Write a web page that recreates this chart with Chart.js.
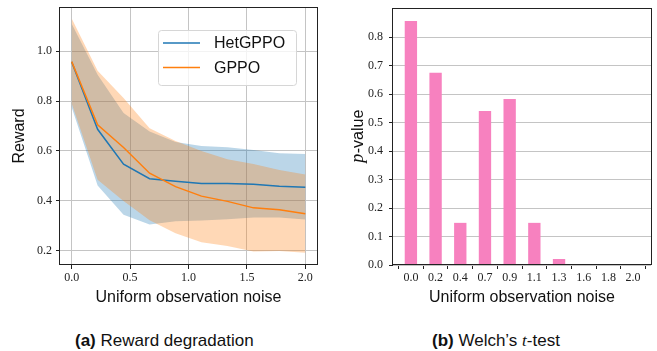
<!DOCTYPE html>
<html>
<head>
<meta charset="utf-8">
<script src="https://cdn.jsdelivr.net/npm/chart.js@4.4.0/dist/chart.umd.min.js"></script>
<style>
  body { margin: 0; background: #fff; width: 657px; height: 351px; position: relative; overflow: hidden;
         font-family: "Liberation Sans", Arial, sans-serif; }
  #left { position: absolute; left: 0; top: 0; width: 330px; height: 310px; }
  #right { position: absolute; left: 330px; top: 0; width: 327px; height: 310px; }
  .cap { position: absolute; top: 331px; font-size: 17px; color: #111; white-space: nowrap; }
</style>
</head>
<body>
<div id="left"><canvas id="rewardChart"></canvas></div>
<div id="right"><canvas id="pvalChart"></canvas></div>
<div class="cap" style="left:75px"><b>(a)</b> Reward degradation</div>
<div class="cap" style="left:432px"><b>(b)</b> Welch’s <i style="font-family:'Liberation Serif',serif">t</i>-test</div>

<script>
// noise levels (x values) and their rounded labels
const noise = [0, 0.222, 0.444, 0.667, 0.889, 1.111, 1.333, 1.556, 1.778, 2.0];
const noiseLabels = ['0.0', '0.2', '0.4', '0.7', '0.9', '1.1', '1.3', '1.6', '1.8', '2.0'];

// reward means and bands
const hetMean  = [0.957, 0.687, 0.547, 0.489, 0.479, 0.470, 0.470, 0.467, 0.459, 0.455];
const hetUpper = [1.110, 0.905, 0.752, 0.678, 0.636, 0.620, 0.615, 0.604, 0.591, 0.588];
const hetLower = [0.775, 0.462, 0.344, 0.305, 0.318, 0.321, 0.326, 0.333, 0.333, 0.325];
const gppoMean  = [0.958, 0.705, 0.614, 0.511, 0.457, 0.419, 0.398, 0.372, 0.364, 0.348];
const gppoUpper = [1.131, 0.922, 0.812, 0.691, 0.640, 0.600, 0.567, 0.548, 0.524, 0.506];
const gppoLower = [0.790, 0.485, 0.399, 0.322, 0.270, 0.234, 0.219, 0.197, 0.199, 0.192];

// Welch's t-test p-values
const pValues = [0.857, 0.675, 0.148, 0.541, 0.583, 0.148, 0.021, 0.0, 0.0, 0.0];

const rewardTicks = [0.2, 0.4, 0.6, 0.8, 1.0];
const noiseTicks = [0.0, 0.5, 1.0, 1.5, 2.0];
const pTicks = [0.0, 0.1, 0.2, 0.3, 0.4, 0.5, 0.6, 0.7, 0.8];

const BLUE = '#1f77b4', ORANGE = '#ff7f0e', PINK = '#f781bf';
const tickFont = { family: "'Liberation Serif', 'Times New Roman', serif", size: 12 };
const titleFont = { family: "'Liberation Sans', Arial, sans-serif", size: 16 };
const gridCol = '#c4c4c4';

Chart.defaults.animation = false;
Chart.defaults.color = '#222';

const pts = (xs, ys) => xs.map((x, i) => ({ x: x, y: ys[i] }));

// frame around the plotting area
const boxPlugin = {
    id: 'box',
    afterDraw(chart) {
        const { ctx, chartArea: a } = chart;
        ctx.save();
        ctx.strokeStyle = '#222';
        ctx.lineWidth = 1;
        ctx.strokeRect(Math.round(a.left) - 0.5, Math.round(a.top) + 0.5,
                       Math.round(a.right - a.left) + 1, Math.round(a.bottom - a.top) - 1);
        ctx.restore();
    }
};

// legend in the upper right of the plot, like matplotlib's
const legendBox = {
    id: 'legendBox',
    afterDraw(chart) {
        const { ctx, chartArea: a } = chart;
        const items = chart.data.datasets.filter(d => d.label);
        const w = 138, h = 55;
        const x = a.right - 21 - w, y = a.top + 23;
        ctx.save();
        ctx.beginPath();
        ctx.roundRect(x + 0.5, y + 0.5, w, h, 3);
        ctx.fillStyle = 'rgba(255,255,255,0.8)';
        ctx.fill();
        ctx.strokeStyle = '#d6d6d6';
        ctx.lineWidth = 1;
        ctx.stroke();
        ctx.font = "16px 'Liberation Sans', Arial, sans-serif";
        ctx.textBaseline = 'middle';
        items.forEach((d, i) => {
            const cy = y + 13 + i * 24.5;
            ctx.strokeStyle = d.borderColor;
            ctx.lineWidth = 1.5;
            ctx.beginPath();
            ctx.moveTo(x + 5, cy);
            ctx.lineTo(x + 42, cy);
            ctx.stroke();
            ctx.fillStyle = '#111';
            ctx.fillText(d.label, x + 56, cy + 1);
        });
        ctx.restore();
    }
};

new Chart(document.getElementById('rewardChart'), {
    type: 'line',
    data: {
        datasets: [
            { label: 'HetGPPO', data: pts(noise, hetMean), borderColor: BLUE, borderWidth: 1.5,
              pointRadius: 0, fill: false, tension: 0, order: 1 },
            { label: 'GPPO', data: pts(noise, gppoMean), borderColor: ORANGE, borderWidth: 1.5,
              pointRadius: 0, fill: false, tension: 0, order: 0 },
            { data: pts(noise, hetUpper), borderWidth: 0, borderColor: 'rgba(0,0,0,0)', pointRadius: 0,
              fill: '+1', backgroundColor: 'rgba(31,119,180,0.3)', order: 3 },
            { data: pts(noise, hetLower), borderWidth: 0, borderColor: 'rgba(0,0,0,0)', pointRadius: 0,
              fill: false, order: 3 },
            { data: pts(noise, gppoUpper), borderWidth: 0, borderColor: 'rgba(0,0,0,0)', pointRadius: 0,
              fill: '+1', backgroundColor: 'rgba(255,127,14,0.3)', order: 2 },
            { data: pts(noise, gppoLower), borderWidth: 0, borderColor: 'rgba(0,0,0,0)', pointRadius: 0,
              fill: false, order: 2 }
        ]
    },
    options: {
        responsive: true,
        maintainAspectRatio: false,
        layout: { padding: { top: 7, right: 13, left: 0, bottom: 0 } },
        plugins: { legend: { display: false }, tooltip: { enabled: false } },
        scales: {
            x: {
                type: 'linear', min: -0.1, max: 2.1,
                afterBuildTicks: s => { s.ticks = noiseTicks.map(v => ({ value: v })); },
                afterFit: s => { s.height = 45; },
                ticks: { font: tickFont, padding: 2, maxRotation: 0, callback: v => v.toFixed(1) },
                grid: { color: gridCol, tickColor: '#222', tickLength: 4 },
                border: { display: false },
                title: { display: true, text: 'Uniform observation noise', font: titleFont, color: '#111',
                         padding: { top: 0, bottom: 3 } }
            },
            y: {
                min: 0.143, max: 1.177,
                afterBuildTicks: s => { s.ticks = rewardTicks.map(v => ({ value: v })); },
                afterFit: s => { s.width = 60; s.paddingTop = 0; s.paddingBottom = 0; },
                ticks: { font: tickFont, padding: 4, callback: v => v.toFixed(1) },
                grid: { color: gridCol, tickColor: '#222', tickLength: 4 },
                border: { display: false },
                title: { display: true, text: 'Reward', font: titleFont, color: '#111',
                         padding: { top: 10, bottom: 0 } }
            }
        }
    },
    plugins: [boxPlugin, legendBox]
});

// y-axis label with an italic serif "p"
const pLabel = {
    id: 'pLabel',
    afterDraw(chart) {
        const { ctx, chartArea: a } = chart;
        ctx.save();
        ctx.translate(32.5, (a.top + a.bottom) / 2);
        ctx.rotate(-Math.PI / 2);
        ctx.textBaseline = 'alphabetic';
        const f1 = "italic 18px 'Liberation Serif', serif";
        const f2 = "16px 'Liberation Sans', Arial, sans-serif";
        ctx.font = f1; const w1 = ctx.measureText('p').width;
        ctx.font = f2; const w2 = ctx.measureText('-value').width;
        let x0 = -(w1 + w2) / 2;
        ctx.fillStyle = '#111';
        ctx.font = f1; ctx.fillText('p', x0, 0);
        ctx.font = f2; ctx.fillText('-value', x0 + w1 + 0.5, 0);
        ctx.restore();
    }
};

new Chart(document.getElementById('pvalChart'), {
    type: 'bar',
    data: {
        datasets: [{
            data: pts(noiseLabels.map((_, i) => i), pValues),
            backgroundColor: PINK,
            categoryPercentage: 1.0,
            barPercentage: 0.5
        }]
    },
    options: {
        responsive: true,
        maintainAspectRatio: false,
        layout: { padding: { top: 8, right: 6, left: 0, bottom: 0 } },
        plugins: { legend: { display: false }, tooltip: { enabled: false } },
        scales: {
            x: {
                type: 'linear', min: -0.725, max: 9.725, offset: false,
                afterBuildTicks: s => { s.ticks = noiseLabels.map((_, i) => ({ value: i })); },
                afterFit: s => { s.height = 45; },
                ticks: { font: tickFont, padding: 2, maxRotation: 0, autoSkip: false,
                         callback: v => noiseLabels[v] },
                grid: { drawOnChartArea: false, tickColor: '#222', tickLength: 4 },
                border: { display: false },
                title: { display: true, text: 'Uniform observation noise', font: titleFont, color: '#111',
                         padding: { top: 0, bottom: 3 } }
            },
            y: {
                min: 0, max: 0.9025,
                afterBuildTicks: s => { s.ticks = pTicks.map(v => ({ value: v })); },
                afterFit: s => { s.width = 63; s.paddingTop = 0; s.paddingBottom = 0; },
                ticks: { font: tickFont, padding: 6, callback: v => v.toFixed(1) },
                grid: { color: gridCol, tickColor: '#222', tickLength: 4 },
                border: { display: false }
            }
        }
    },
    plugins: [boxPlugin, pLabel]
});
</script>
</body>
</html>
